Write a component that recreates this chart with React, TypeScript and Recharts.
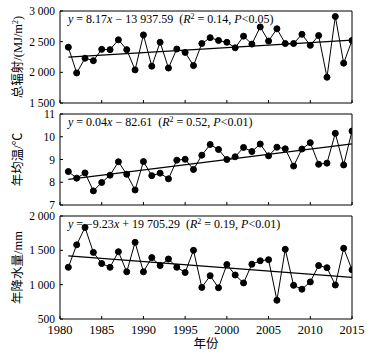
import React from 'react';
import { LineChart, Line, XAxis, YAxis, ReferenceArea, ReferenceLine } from 'recharts';

const years = [1981, 1982, 1983, 1984, 1985, 1986, 1987, 1988, 1989, 1990, 1991, 1992, 1993, 1994, 1995, 1996, 1997, 1998, 1999, 2000, 2001, 2002, 2003, 2004, 2005, 2006, 2007, 2008, 2009, 2010, 2011, 2012, 2013, 2014, 2015];
const radiation = [2410, 1990, 2230, 2190, 2375, 2370, 2530, 2370, 2040, 2610, 2100, 2490, 2070, 2380, 2325, 2110, 2470, 2565, 2520, 2490, 2400, 2590, 2460, 2740, 2510, 2710, 2470, 2470, 2620, 2440, 2600, 1920, 2910, 2150, 2520];
const temperature = [8.47, 8.18, 8.41, 7.62, 7.99, 8.31, 8.9, 8.35, 7.66, 8.91, 8.29, 8.4, 8.15, 8.97, 9.01, 8.56, 9.19, 9.66, 9.44, 9.0, 9.12, 9.53, 9.35, 9.68, 9.16, 9.54, 9.47, 8.71, 9.46, 9.74, 8.79, 8.84, 10.15, 8.76, 10.25];
const precipitation = [1253, 1581, 1833, 1470, 1308, 1253, 1480, 1187, 1616, 1187, 1394, 1278, 1374, 1253, 1177, 1500, 960, 1131, 955, 1293, 1141, 1025, 1298, 1348, 1364, 773, 1515, 990, 934, 1040, 1278, 1247, 995, 1530, 1217];

const trendYears = [1981, 2015];
const radiationTrend = [2247, 2525];
const temperatureTrend = [8.13, 9.69];
const precipitationTrend = [1420, 1107];

const xTicks = [1980, 1985, 1990, 1995, 2000, 2005, 2010, 2015];
const xTickLabels = ['1980', '1985', '1990', '1995', '2000', '2005', '2010', '2015'];
const radiationTicks = [1500, 2000, 2500, 3000];
const radiationTickLabels = ['1 500', '2 000', '2 500', '3 000'];
const temperatureTicks = [7, 8, 9, 10, 11];
const temperatureTickLabels = ['7', '8', '9', '10', '11'];
const precipitationTicks = [500, 1000, 1500, 2000];
const precipitationTickLabels = ['500', '1 000', '1 500', '2 000'];

const SERIF = "'Liberation Serif', 'Times New Roman', 'DejaVu Serif', serif";
const CJK = "'Liberation Serif', 'Noto Sans CJK SC', serif";

type EqPart = { t: string; i?: boolean; sup?: boolean };
const radiationEq: EqPart[] = [
  { t: 'y', i: true }, { t: ' = 8.17' }, { t: 'x', i: true }, { t: ' \u2212 13 937.59  (' },
  { t: 'R', i: true }, { t: '2', sup: true }, { t: ' = 0.14, ' }, { t: 'P', i: true }, { t: '<0.05)' },
];
const temperatureEq: EqPart[] = [
  { t: 'y', i: true }, { t: ' = 0.04' }, { t: 'x', i: true }, { t: ' \u2212 82.61  (' },
  { t: 'R', i: true }, { t: '2', sup: true }, { t: ' = 0.52, ' }, { t: 'P', i: true }, { t: '<0.01)' },
];
const precipitationEq: EqPart[] = [
  { t: 'y', i: true }, { t: ' = \u22129.23' }, { t: 'x', i: true }, { t: ' + 19 705.29  (' },
  { t: 'R', i: true }, { t: '2', sup: true }, { t: ' = 0.19, ' }, { t: 'P', i: true }, { t: '<0.01)' },
];

function makeYTick(ticks: number[], labels: string[]) {
  return (props: any) => {
    const { x, y, payload } = props;
    const idx = ticks.indexOf(payload.value);
    return (
      <g>
        <line x1={x} x2={x + 3} y1={y} y2={y} stroke="#000" strokeWidth={1} />
        <text x={x - 5} y={y} dy="0.35em" textAnchor="end" fill="#000" style={{ whiteSpace: 'pre', fontFamily: SERIF, fontSize: 11.5 }}>
          {idx >= 0 ? labels[idx] : ''}
        </text>
      </g>
    );
  };
}

function makeXTick(showLabels: boolean) {
  return (props: any) => {
    const { x, y, payload } = props;
    const idx = xTicks.indexOf(payload.value);
    return (
      <g>
        <line x1={x} x2={x} y1={y} y2={y - 3} stroke="#000" strokeWidth={1} />
        {showLabels && (
          <text x={x} y={y + 15} textAnchor="middle" fill="#000" style={{ fontFamily: SERIF, fontSize: 12.5 }}>
            {idx >= 0 ? xTickLabels[idx] : ''}
          </text>
        )}
      </g>
    );
  };
}

type PanelProps = {
  top: number;
  height: number;
  marginTop: number;
  xAxisHeight: number;
  values: number[];
  trend: number[];
  yDomain: [number, number];
  yTicks: number[];
  yTickLabels: string[];
  yTitle: React.ReactNode;
  eq: EqPart[];
  showXLabels: boolean;
};

function Panel(p: PanelProps) {
  const data = years.map((yr, i) => ({ year: yr, value: p.values[i] }));
  const eqLabel = (lp: any) => {
    const vb = lp.viewBox || { x: 60, y: p.marginTop };
    return (
      <text x={vb.x + 8} y={vb.y + 12} fill="#000" style={{ whiteSpace: 'pre', fontFamily: SERIF, fontSize: 12 }}>
        {p.eq.map((e, k) =>
          e.sup ? (
            <tspan key={k} baselineShift="super" style={{ fontSize: 8 }}>{e.t}</tspan>
          ) : (
            <tspan key={k} style={{ fontStyle: e.i ? 'italic' : 'normal' }}>{e.t}</tspan>
          )
        )}
      </text>
    );
  };
  const yTitle = (lp: any) => {
    const vb = lp.viewBox || { x: 0, y: p.marginTop, height: 90 };
    const cx = 18;
    const cy = vb.y + vb.height / 2;
    return (
      <text x={cx} y={cy} dy="0.35em" textAnchor="middle" transform={`rotate(-90, ${cx}, ${cy})`} fill="#000" style={{ fontFamily: CJK, fontSize: 12.5 }}>
        {p.yTitle}
      </text>
    );
  };
  const xTitle = (lp: any) => {
    const vb = lp.viewBox || { x: 60, y: 319, width: 292 };
    return (
      <text x={vb.x + vb.width / 2} y={vb.y + 29} textAnchor="middle" fill="#000" style={{ fontFamily: CJK, fontSize: 12.5 }}>
        年份
      </text>
    );
  };
  return (
    <div style={{ position: 'absolute', left: 0, top: p.top, width: 370, height: p.height }}>
      <LineChart width={370} height={p.height} data={data} margin={{ top: p.marginTop, right: 18, bottom: 0, left: 0 }}>
        <XAxis
          dataKey="year"
          type="number"
          domain={[1980, 2015]}
          ticks={xTicks}
          interval={0}
          allowDataOverflow
          height={p.xAxisHeight}
          axisLine={false}
          tickLine={false}
          tickSize={0}
          tickMargin={0}
          tick={makeXTick(p.showXLabels)}
          label={p.showXLabels ? { content: xTitle } : undefined}
        />
        <YAxis
          type="number"
          domain={p.yDomain}
          ticks={p.yTicks}
          interval={0}
          allowDataOverflow
          width={60}
          axisLine={false}
          tickLine={false}
          tickSize={0}
          tickMargin={0}
          tick={makeYTick(p.yTicks, p.yTickLabels)}
          label={{ content: yTitle }}
        />
        <ReferenceArea
          x1={1980}
          x2={2015}
          y1={p.yDomain[0]}
          y2={p.yDomain[1]}
          fill="none"
          fillOpacity={0}
          stroke="#000"
          strokeWidth={1}
          strokeOpacity={1}
          label={{ content: eqLabel }}
        />
        <ReferenceLine
          segment={[
            { x: trendYears[0], y: p.trend[0] },
            { x: trendYears[1], y: p.trend[1] },
          ]}
          stroke="#000"
          strokeWidth={1.2}
        />
        <Line
          type="linear"
          dataKey="value"
          stroke="#000"
          strokeWidth={1}
          dot={{ r: 3, fill: '#000', stroke: '#000', strokeWidth: 1 }}
          isAnimationActive={false}
        />
      </LineChart>
    </div>
  );
}

export default function App() {
  return (
    <div style={{ position: 'absolute', left: 0, top: 0, width: 370, height: 354, background: '#fff' }}>
      <Panel
        top={0}
        height={110}
        marginTop={11}
        xAxisHeight={7}
        values={radiation}
        trend={radiationTrend}
        yDomain={[1500, 3000]}
        yTicks={radiationTicks}
        yTickLabels={radiationTickLabels}
        yTitle={<>总辐射/(MJ/m<tspan baselineShift="super" style={{ fontSize: 8 }}>2</tspan>)</>}
        eq={radiationEq}
        showXLabels={false}
      />
      <Panel
        top={108}
        height={104}
        marginTop={6}
        xAxisHeight={7}
        values={temperature}
        trend={temperatureTrend}
        yDomain={[7, 11]}
        yTicks={temperatureTicks}
        yTickLabels={temperatureTickLabels}
        yTitle={'年均温/\u2103'}
        eq={temperatureEq}
        showXLabels={false}
      />
      <Panel
        top={209}
        height={145}
        marginTop={7}
        xAxisHeight={35}
        values={precipitation}
        trend={precipitationTrend}
        yDomain={[500, 2000]}
        yTicks={precipitationTicks}
        yTickLabels={precipitationTickLabels}
        yTitle={'年降水量/mm'}
        eq={precipitationEq}
        showXLabels={true}
      />
    </div>
  );
}
